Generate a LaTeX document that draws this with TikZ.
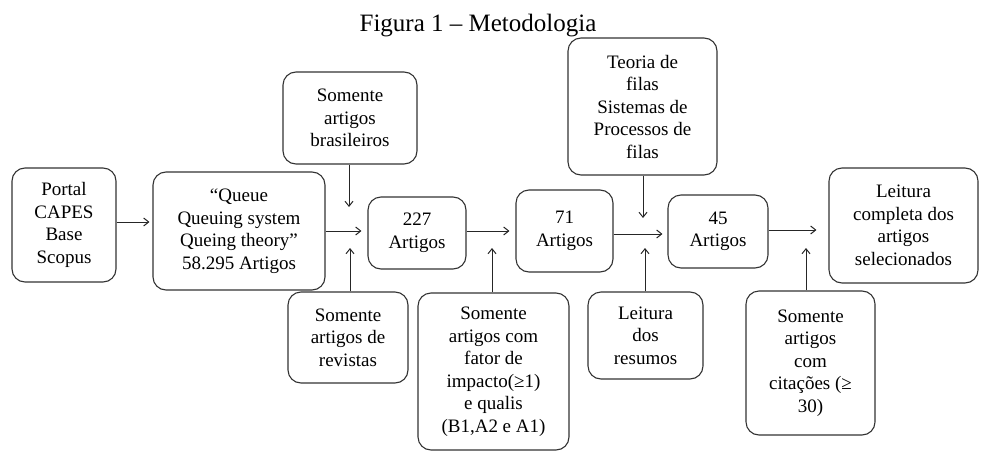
\documentclass[tikz,border=0pt]{standalone}
\usepackage{fontspec}
\setmainfont{Liberation Serif}
\usetikzlibrary{arrows.meta,calc}
\begin{document}
\begin{tikzpicture}[x=1pt,y=-1pt,
  box/.style={draw=black!80,line width=1.1pt,rounded corners=13pt,align=center,inner sep=0pt,
    font=\fontsize{19}{22.5}\selectfont},
  arr/.style={draw=black!85,line width=1pt,-{Straight Barb[length=5pt,width=8pt]}}]
\useasboundingbox (0,0) rectangle (981,452);
\node[anchor=base,font=\fontsize{25}{28}\selectfont] (title) at (478,31.5) {Figura 1 – Metodologia};
\node[box,minimum width=104pt,minimum height=114pt] (portal) at (64,225) {Portal\\CAPES\\Base\\Scopus};
\node[box,minimum width=172pt,minimum height=118pt] (query) at (239,231) {“Queue\\Queuing system\\Queing theory”\\58.295 Artigos};
\node[box,minimum width=134pt,minimum height=92pt] (bras) at (350,118) {Somente\\artigos\\brasileiros};
\node[box,minimum width=120pt,minimum height=91pt] (rev) at (348,337.5) {Somente\\artigos de\\revistas};
\node[box,minimum width=98pt,minimum height=72pt] (n227) at (417,233) {227\\Artigos};
\node[box,minimum width=151pt,minimum height=157pt] (fator) at (493.5,371.5) {Somente\\artigos com\\fator de\\impacto(≥1)\\e qualis\\(B1,A2 e A1)};
\node[box,minimum width=97pt,minimum height=82pt] (n71) at (564.5,231) {71\\Artigos};
\node[box,minimum width=149pt,minimum height=137pt] (teoria) at (642.5,106.5) {Teoria de\\filas\\Sistemas de\\Processos de\\filas};
\node[box,minimum width=115pt,minimum height=87pt] (resumos) at (645.5,335.5) {Leitura\\dos\\resumos};
\node[box,minimum width=100pt,minimum height=73pt] (n45) at (718,231.5) {45\\Artigos};
\node[box,minimum width=149pt,minimum height=115pt] (final) at (903.5,225.5) {Leitura\\completa dos\\artigos\\selecionados};
\node[box,minimum width=129pt,minimum height=144pt] (cit) at (810.5,363) {Somente\\artigos\\com\\citações (≥\\30)};
% junction points
\coordinate (j1t) at (349,207);
\coordinate (j1b) at (350,248);
\coordinate (j2b) at (492,248);
\coordinate (j3t) at (643,218);
\coordinate (j3b) at (645,248);
\coordinate (j4b) at (806,248);
% horizontal flow
\draw[arr,shorten >=3pt] (portal.east |- 0,222) -- (query.west |- 0,222);
\draw[arr,shorten >=6pt] (query.east |- 0,231) -- (n227.west |- 0,231);
\draw[arr,shorten >=6pt] (n227.east |- 0,231) -- (n71.west |- 0,231);
\draw[arr,shorten >=5pt] (n71.east |- 0,234) -- (n45.west |- 0,234);
\draw[arr,shorten >=12pt] (n45.east |- 0,230) -- (final.west |- 0,230);
% filters
\draw[arr] (bras.south -| j1t) -- (j1t);
\draw[arr] (rev.north -| j1b) -- (j1b);
\draw[arr] (fator.north -| j2b) -- (j2b);
\draw[arr] (teoria.south -| j3t) -- (j3t);
\draw[arr] (resumos.north -| j3b) -- (j3b);
\draw[arr] (cit.north -| j4b) -- (j4b);
\end{tikzpicture}
\end{document}
